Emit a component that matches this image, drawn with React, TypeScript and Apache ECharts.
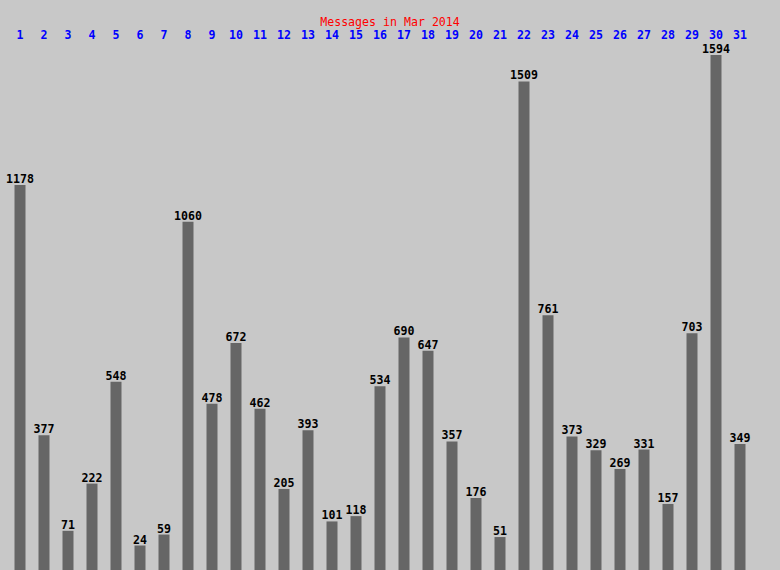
import React, { useEffect, useRef } from "react";
import * as echarts from "echarts";

const days = Array.from({ length: 31 }, (_, i) => String(i + 1));
const messages = [
  1178, 377, 71, 222, 548, 24, 59, 1060, 478, 672, 462, 205, 393, 101, 118, 534,
  690, 647, 357, 176, 51, 1509, 761, 373, 329, 269, 331, 157, 703, 1594, 349,
];
const titleText = "Messages in Mar 2014";
// visual stub under every bar (the original chart draws bars from below zero)
const barStub = 54.4;

const FONT = "'DejaVu Sans Mono', 'Liberation Mono', monospace";

export default function App() {
  const ref = useRef<HTMLDivElement>(null);
  useEffect(() => {
    document.body.style.margin = "0";
    const chart = echarts.init(ref.current!, null, { renderer: "svg" });
    chart.setOption({
      animation: false,
      backgroundColor: "#c8c8c8",
      title: {
        text: titleText,
        left: "center",
        top: 16,
        padding: 0,
        textStyle: {
          color: "#ff0000",
          fontFamily: FONT,
          fontSize: 11.6,
          fontWeight: "normal",
          lineHeight: 12,
        },
      },
      grid: { left: 8, right: 28, top: 45, bottom: 0 },
      xAxis: {
        type: "category",
        data: days,
        position: "top",
        axisLine: { show: false },
        axisTick: { show: false },
        axisLabel: {
          color: "#0000ff",
          fontFamily: FONT,
          fontWeight: "bold",
          fontSize: 11.6,
          lineHeight: 9,
          margin: 6,
          interval: 0,
        },
      },
      yAxis: {
        type: "value",
        min: 0,
        max: 1680,
        show: false,
        splitLine: { show: false },
      },
      series: [
        {
          type: "bar",
          stack: "m",
          data: messages.map(() => barStub),
          barWidth: 11,
          itemStyle: { color: "#666666" },
          silent: true,
        },
        {
          type: "bar",
          stack: "m",
          data: messages,
          barWidth: 11,
          itemStyle: { color: "#666666" },
          label: {
            show: true,
            position: "top",
            distance: 1,
            color: "#000000",
            fontFamily: FONT,
            fontWeight: "bold",
            fontSize: 11.6,
            lineHeight: 10,
          },
        },
      ],
    });
    return () => chart.dispose();
  }, []);
  return <div ref={ref} style={{ position: "absolute", left: 0, top: 0, width: 780, height: 570 }} />;
}
